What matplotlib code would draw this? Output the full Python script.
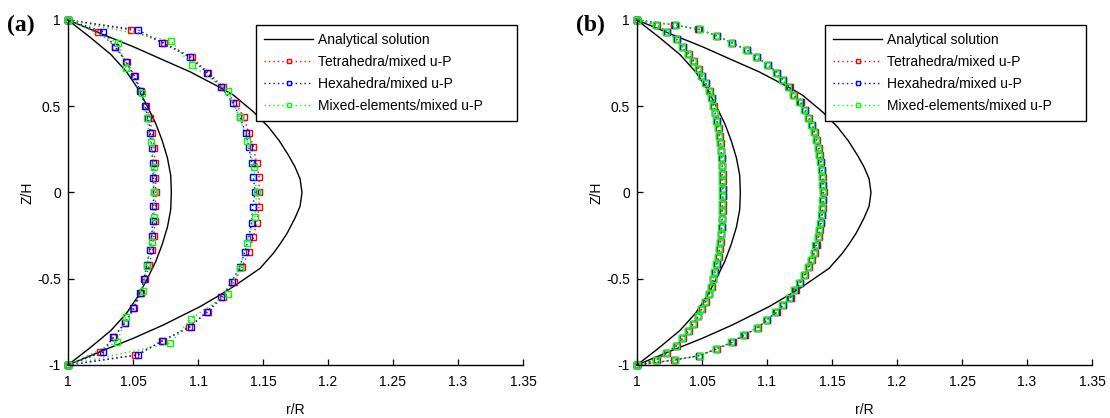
import matplotlib
matplotlib.use("Agg")
import matplotlib.pyplot as plt

# ---------------- data ----------------
# Analytical solution (shared by both panels)
z_ana_out = [1, 0.923, 0.845, 0.768, 0.70, 0.604, 0.565, 0.468, 0.381, 0.30, 0.217, 0.15, 0.08, 0,
             -0.08, -0.15, -0.237, -0.30, -0.352, -0.44, -0.546, -0.594, -0.662, -0.768, -0.845, -0.923, -1]
r_ana_out = [1, 1.0246, 1.0503, 1.0733, 1.0938, 1.1182, 1.1272, 1.1426, 1.1541, 1.1625, 1.1695, 1.1745, 1.1785, 1.18,
             1.1785, 1.1745, 1.1685, 1.163, 1.158, 1.1477, 1.1272, 1.1169, 1.1015, 1.0733, 1.0503, 1.0246, 1]
z_ana_in = [1, 0.90, 0.80, 0.70, 0.60, 0.50, 0.40, 0.30, 0.20, 0.10, 0,
            -0.10, -0.20, -0.30, -0.40, -0.50, -0.60, -0.70, -0.80, -0.90, -1]
r_ana_in = [1, 1.017, 1.033, 1.045, 1.054, 1.061, 1.0675, 1.0725, 1.0765, 1.079, 1.0795,
            1.079, 1.0765, 1.0725, 1.0675, 1.061, 1.054, 1.045, 1.033, 1.017, 1]

# Panel (a): numerical results
z_in_a = [1, 0.932, 0.845, 0.758, 0.675, 0.59, 0.501, 0.43, 0.343, 0.256, 0.169, 0.082, 0,
          -0.08, -0.163, -0.25, -0.333, -0.42, -0.501, -0.584, -0.671, -0.755, -0.839, -0.926, -1]
tet_in_a = [1, 1.0233, 1.0365, 1.0452, 1.0512, 1.0562, 1.0602, 1.063, 1.0648, 1.0662, 1.0668, 1.0672, 1.0675,
            1.0672, 1.0668, 1.066, 1.0648, 1.0625, 1.0595, 1.056, 1.051, 1.0442, 1.0352, 1.025, 1]
hex_in_a = [1, 1.0272, 1.0362, 1.0446, 1.0508, 1.0556, 1.0592, 1.0618, 1.0633, 1.0644, 1.0651, 1.0656, 1.0659,
            1.0656, 1.0651, 1.0644, 1.063, 1.0605, 1.0585, 1.0554, 1.0503, 1.0438, 1.0349, 1.0267, 1]
z_out_a = [1, 0.942, 0.868, 0.784, 0.695, 0.61, 0.517, 0.44, 0.347, 0.266, 0.173, 0.088, 0,
           -0.082, -0.175, -0.26, -0.347, -0.43, -0.517, -0.608, -0.69, -0.778, -0.859, -0.942, -1]
tet_out_a = [1, 1.0485, 1.0738, 1.095, 1.108, 1.1195, 1.129, 1.135, 1.139, 1.1426, 1.145, 1.147, 1.147,
             1.147, 1.145, 1.1426, 1.139, 1.134, 1.128, 1.119, 1.108, 1.093, 1.0733, 1.0515, 1]
hex_out_a = [1, 1.054, 1.0726, 1.0938, 1.1067, 1.118, 1.127, 1.132, 1.1367, 1.139, 1.1413, 1.1426, 1.144,
             1.142, 1.1413, 1.139, 1.136, 1.132, 1.126, 1.118, 1.1067, 1.0944, 1.0726, 1.054, 1]
z_mix_in_a = [1, 0.868, 0.723, 0.575, 0.43, 0.295, 0.15, 0, -0.14, -0.285, -0.426, -0.569, -0.72, -0.865, -1]
mix_in_a = [1, 1.0387, 1.0446, 1.0567, 1.0605, 1.0636, 1.0662, 1.066, 1.0662, 1.0644, 1.0605, 1.0574, 1.0446, 1.0379, 1]
z_mix_out_a = [1, 0.88, 0.739, 0.59, 0.436, 0.30, 0.15, 0, -0.14, -0.29, -0.44, -0.588, -0.733, -0.874, -1]
mix_out_a = [1, 1.079, 1.095, 1.123, 1.132, 1.138, 1.143, 1.145, 1.1438, 1.1374, 1.132, 1.1228, 1.0946, 1.0785, 1]

# Panel (b): numerical results
z_in_b = [1, 0.97, 0.932, 0.888, 0.845, 0.801, 0.76, 0.716, 0.675, 0.633, 0.59, 0.546, 0.502, 0.459,
          0.416, 0.372, 0.328, 0.285, 0.242, 0.198, 0.154, 0.11, 0.066, 0.022,
          -0.022, -0.066, -0.11, -0.154, -0.198, -0.242, -0.285, -0.328, -0.372, -0.416, -0.459, -0.502,
          -0.546, -0.59, -0.633, -0.675, -0.716, -0.76, -0.801, -0.845, -0.888, -0.932, -0.97, -1]
hex_in_b = [1, 1.015, 1.0228, 1.0305, 1.0351, 1.0395, 1.0433, 1.0472, 1.0497, 1.0528, 1.0556, 1.0574, 1.0587, 1.06,
            1.0613, 1.0626, 1.0633, 1.0641, 1.0646, 1.065, 1.0654, 1.0655, 1.0656, 1.0658,
            1.0658, 1.0656, 1.0655, 1.0653, 1.065, 1.0646, 1.064, 1.0632, 1.0624, 1.0612, 1.0598, 1.0585,
            1.0572, 1.0554, 1.0526, 1.0495, 1.047, 1.0432, 1.0394, 1.035, 1.0303, 1.0226, 1.015, 1]
tet_in_b = [1, 1.0155, 1.023, 1.0305, 1.0355, 1.04, 1.0438, 1.0475, 1.05, 1.053, 1.0558, 1.0578, 1.059, 1.0603,
            1.0616, 1.0628, 1.0636, 1.0644, 1.0649, 1.0653, 1.0657, 1.0658, 1.0659, 1.066,
            1.066, 1.0659, 1.0658, 1.0656, 1.0653, 1.0649, 1.0643, 1.0635, 1.0627, 1.0615, 1.0601, 1.0588,
            1.0576, 1.0557, 1.053, 1.0498, 1.0473, 1.0436, 1.0398, 1.0353, 1.0305, 1.0228, 1.0152, 1]
mix_in_b = [1, 1.0148, 1.0225, 1.0302, 1.0348, 1.0392, 1.043, 1.0468, 1.0495, 1.0525, 1.0553, 1.0572, 1.0585, 1.0598,
            1.0611, 1.0624, 1.0631, 1.0639, 1.0645, 1.0649, 1.0653, 1.0654, 1.0655, 1.0657,
            1.0657, 1.0655, 1.0654, 1.0652, 1.0649, 1.0645, 1.0638, 1.063, 1.0622, 1.061, 1.0596, 1.0583,
            1.057, 1.0551, 1.0523, 1.0493, 1.0467, 1.043, 1.0391, 1.0347, 1.03, 1.0224, 1.0148, 1]
z_out_b = [1, 0.971, 0.946, 0.907, 0.868, 0.826, 0.784, 0.739, 0.695, 0.652, 0.61, 0.565, 0.523, 0.478,
           0.434, 0.391, 0.348, 0.304, 0.26, 0.217, 0.175, 0.13, 0.087, 0.043, 0,
           -0.043, -0.087, -0.13, -0.175, -0.217, -0.26, -0.304, -0.348, -0.391, -0.434, -0.478, -0.523,
           -0.565, -0.61, -0.652, -0.695, -0.739, -0.784, -0.826, -0.868, -0.907, -0.946, -0.971, -1]
hex_out_b = [1, 1.0292, 1.048, 1.0613, 1.0728, 1.0844, 1.092, 1.1005, 1.1074, 1.112, 1.117, 1.1203, 1.1254, 1.129,
             1.1318, 1.1344, 1.1364, 1.1377, 1.1395, 1.1403, 1.1413, 1.142, 1.1426, 1.1428, 1.143,
             1.1428, 1.1426, 1.142, 1.1412, 1.1402, 1.1393, 1.1376, 1.1362, 1.1342, 1.1316, 1.1288, 1.1252,
             1.1215, 1.1177, 1.112, 1.107, 1.0997, 1.0926, 1.0823, 1.073, 1.061, 1.048, 1.029, 1]
tet_out_b = [1, 1.0285, 1.047, 1.0618, 1.0733, 1.0848, 1.0925, 1.101, 1.1078, 1.1125, 1.1175, 1.1208, 1.1258, 1.1295,
             1.1323, 1.1349, 1.1369, 1.1383, 1.1401, 1.1409, 1.1418, 1.1425, 1.1431, 1.1433, 1.1435,
             1.1433, 1.1431, 1.1425, 1.1417, 1.1407, 1.1398, 1.1381, 1.1367, 1.1347, 1.1321, 1.1293, 1.1257,
             1.122, 1.1182, 1.1125, 1.1075, 1.1002, 1.0931, 1.0828, 1.0735, 1.0615, 1.0475, 1.0285, 1]
mix_out_b = [1, 1.0298, 1.0485, 1.0608, 1.0722, 1.0838, 1.0915, 1.1, 1.1068, 1.1115, 1.1165, 1.1198, 1.1249, 1.1286,
             1.1314, 1.134, 1.1361, 1.1374, 1.1392, 1.14, 1.141, 1.1417, 1.1423, 1.1425, 1.1428,
             1.1425, 1.1423, 1.1417, 1.1409, 1.1399, 1.139, 1.1373, 1.1359, 1.1338, 1.1312, 1.1283, 1.1247,
             1.121, 1.1172, 1.1115, 1.1065, 1.0992, 1.0921, 1.0818, 1.0725, 1.0605, 1.0485, 1.0295, 1]

x_ticks = [1, 1.05, 1.1, 1.15, 1.2, 1.25, 1.3, 1.35]
x_tick_labels = ["1", "1.05", "1.1", "1.15", "1.2", "1.25", "1.3", "1.35"]
y_ticks = [-1, -0.5, 0, 0.5, 1]
y_tick_labels = ["-1", "-0.5", "0", "0.5", "1"]
legend_labels = ["Analytical solution", "Tetrahedra/mixed u-P",
                 "Hexahedra/mixed u-P", "Mixed-elements/mixed u-P"]

# ---------------- style ----------------
SANS = "Liberation Sans"
plt.rcParams["font.family"] = [SANS, "DejaVu Sans"]
W, H = 1110, 418
fig = plt.figure(figsize=(W / 100, H / 100), dpi=100)

ms = 4.8
common = dict(linestyle=(0, (1, 2.2)), linewidth=1.0, marker="s", markersize=ms,
              markerfacecolor="none", markeredgewidth=1.0, clip_on=False)


def panel(left_px, label, data):
    ax = fig.add_axes([left_px / W, 1 - 365 / H, 455 / W, 345 / H])
    h_ana, = ax.plot(r_ana_out, z_ana_out, color="black", linewidth=1.0, clip_on=False)
    ax.plot(r_ana_in, z_ana_in, color="black", linewidth=1.0, clip_on=False)
    handles = [h_ana]
    for (zi, ri, zo, ro), col in zip(data, ["#ff0000", "#0000ff", "#00ff00"]):
        h, = ax.plot(ri, zi, color=col, markeredgecolor=col, **common)
        ax.plot(ro, zo, color=col, markeredgecolor=col, **common)
        handles.append(h)
    ax.set_xlim(1, 1.35)
    ax.set_ylim(-1, 1)
    ax.set_xticks(x_ticks)
    ax.set_xticklabels(x_tick_labels)
    ax.set_yticks(y_ticks)
    ax.set_yticklabels(y_tick_labels)
    for s in ["top", "right"]:
        ax.spines[s].set_visible(False)
    for s in ["left", "bottom"]:
        ax.spines[s].set_linewidth(1.0)
    ax.tick_params(direction="in", length=4, width=0.9, labelsize=10)
    ax.tick_params(axis="x", pad=7)
    ax.tick_params(axis="y", pad=5)
    ax.set_xlabel("r/R", fontsize=10, labelpad=10)
    ax.set_ylabel("Z/H", fontsize=10, labelpad=2)
    leg = ax.legend(handles, legend_labels, loc="upper left",
                    bbox_to_anchor=((188) / 455, (365 - 28) / 345, 261 / 455, 0.01),
                    mode="expand", borderaxespad=0, fontsize=10, numpoints=1,
                    handlelength=3.5, handletextpad=0.35, labelspacing=0.57,
                    borderpad=0.6, markerscale=0.7, fancybox=False,
                    edgecolor="black", framealpha=1)
    leg.get_frame().set_linewidth(1.0)
    fig.text((left_px - 61) / W, 1 - 25 / H, label, fontsize=17, fontweight="bold",
             family="Liberation Serif", va="center", ha="left")
    return ax


panel(68, "(a)", [(z_in_a, tet_in_a, z_out_a, tet_out_a),
                  (z_in_a, hex_in_a, z_out_a, hex_out_a),
                  (z_mix_in_a, mix_in_a, z_mix_out_a, mix_out_a)])
panel(637, "(b)", [(z_in_b, tet_in_b, z_out_b, tet_out_b),
                   (z_in_b, hex_in_b, z_out_b, hex_out_b),
                   (z_in_b, mix_in_b, z_out_b, mix_out_b)])

fig.savefig("out.png", dpi=100)
